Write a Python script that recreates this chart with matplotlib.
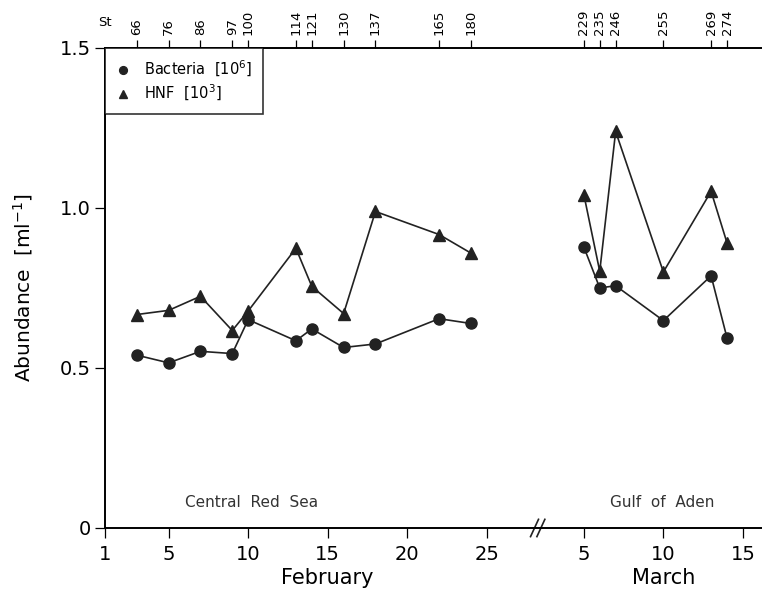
import matplotlib
matplotlib.use("Agg")
import matplotlib.pyplot as plt
import matplotlib.transforms as mtransforms

# sampling dates (day of month) and the station numbers on the top axis
feb_days = [3, 5, 7, 9, 10, 13, 14, 16, 18, 22, 24]
mar_days = [5, 6, 7, 10, 13, 14]
stations = [66, 76, 86, 97, 100, 114, 121, 130, 137, 165, 180,
            229, 235, 246, 255, 269, 274]

# abundances
bact_feb = [0.540, 0.516, 0.552, 0.545, 0.651, 0.585, 0.622, 0.564, 0.575, 0.654, 0.639]
bact_mar = [0.878, 0.750, 0.757, 0.648, 0.788, 0.594]
hnf_feb = [0.667, 0.680, 0.724, 0.617, 0.678, 0.874, 0.755, 0.670, 0.989, 0.917, 0.859]
hnf_mar = [1.042, 0.802, 1.239, 0.800, 1.052, 0.891]

feb_ticks = [1, 5, 10, 15, 20, 25]
mar_ticks = [5, 10, 15]
y_ticks = [0, 0.5, 1.0, 1.5]
y_ticklabels = ["0", "0.5", "1.0", "1.5"]

# March is drawn after a broken axis, shifted onto the February scale
MAR_SHIFT = 26.1
BREAK_X = 28.2

def mar(days):
    return [d + MAR_SHIFT for d in days]

plt.rcParams["font.family"] = "DejaVu Sans"
fig = plt.figure(figsize=(7.62, 5.89), dpi=100)
ax = fig.add_axes([0.1378, 0.1036, 0.8622, 0.815])

lc = "#222222"
ax.plot(feb_days, bact_feb, "-o", color=lc, lw=1.2, ms=8, label="Bacteria  [10$^6$]")
ax.plot(mar(mar_days), bact_mar, "-o", color=lc, lw=1.2, ms=8)
ax.plot(feb_days, hnf_feb, "-^", color=lc, lw=1.2, ms=8, label="HNF  [10$^3$]")
ax.plot(mar(mar_days), hnf_mar, "-^", color=lc, lw=1.2, ms=8)

ax.set_xlim(1, 42.3)
ax.set_ylim(0, 1.5)

ax.set_xticks(feb_ticks + mar(mar_ticks))
ax.set_xticklabels([str(t) for t in feb_ticks + mar_ticks], fontsize=14)
ax.set_yticks(y_ticks)
ax.set_yticklabels(y_ticklabels, fontsize=14)
ax.tick_params(axis="both", direction="out", length=7, width=0.9, pad=3)
ax.tick_params(axis="x", pad=5)
ax.set_ylabel("Abundance  [ml$^{-1}$]", fontsize=14.5, labelpad=18)

for s in ["right", "top"]:
    ax.spines[s].set_visible(False)
for s in ["left", "bottom"]:
    ax.spines[s].set_linewidth(1.4)

# station numbers along the top
top = ax.secondary_xaxis("top")
top.set_xticks(feb_days + mar(mar_days))
top.set_xticklabels([str(s) for s in stations], rotation=90, fontsize=9.5)
top.tick_params(direction="out", length=6, width=0.9, pad=3)
top.spines["top"].set_linewidth(1.4)
ax.text(0, 1 + 25 / 480, "St", transform=ax.transAxes, ha="center", va="center", fontsize=9.5)

# axis break mark
trans = mtransforms.blended_transform_factory(ax.transData, ax.transAxes)
for dx in (-0.2, 0.2):
    ax.plot([BREAK_X + dx - 0.25, BREAK_X + dx + 0.25], [-0.018, 0.018],
            color=lc, lw=1.2, transform=trans, clip_on=False)

# region and month labels
ax.text(10.2, 0.08, "Central  Red  Sea", fontsize=11, ha="center", va="center", color="#333333")
ax.text(36.0, 0.08, "Gulf  of  Aden", fontsize=11, ha="center", va="center", color="#333333")
ax.text(15.0, -0.104, "February", transform=trans, fontsize=15, ha="center", va="center")
ax.text(36.1, -0.104, "March", transform=trans, fontsize=15, ha="center", va="center")

leg = ax.legend(loc="upper left", bbox_to_anchor=(0, 1), borderaxespad=0,
                frameon=True, fancybox=False, fontsize=10.5, handlelength=1.0,
                handletextpad=0.9, borderpad=0.75, labelspacing=0.3, markerscale=0.7)
leg.get_frame().set_edgecolor("black")
leg.get_frame().set_linewidth(1.2)
for h in leg.legend_handles:
    h.set_linestyle("")

fig.savefig("out.png", dpi=100)
